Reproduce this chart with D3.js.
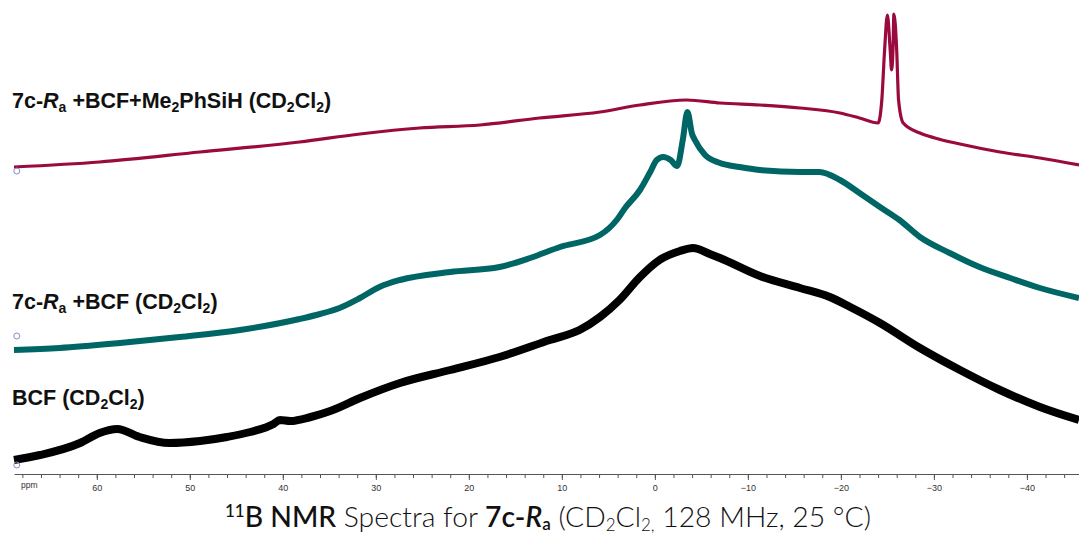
<!DOCTYPE html>
<html>
<head>
<meta charset="utf-8">
<script src="https://cdn.jsdelivr.net/npm/d3@7"></script>
<style>
  body { margin: 0; background: #fff; }
  svg { display: block; }
  .tick text { font-family: "Liberation Sans", Arial, sans-serif; }
</style>
</head>
<body>
<svg class="chart"></svg>
<script>
var width = 1079,
    height = 538;

// chemical shift (ppm) and intensity
var bcfPpm = [68.9, 66.1, 61.8, 59.7, 57.8, 55.4, 52.2, 48.9, 46.0, 43.5, 41.0, 40.3, 39.2, 37.0, 34.9, 31.7, 27.4, 22.0, 16.7, 11.3, 8.1, 5.9, 3.8, 1.6, -0.5, -2.7, -4.1, -5.9, -7.0, -11.3, -15.6, -18.8, -21.0, -24.2, -28.5, -32.8, -37.1, -41.4, -45.6];
var bcfInt = [14, 19, 31, 41, 45, 37, 31, 33, 37, 42, 50, 54, 53, 57, 63, 76, 91, 104, 117, 134, 144, 157, 174, 197, 214, 223, 226, 220, 216, 198, 186, 177, 167, 151, 126, 104, 84, 67, 54];

var bcf7cPpm = [68.9, 64.0, 57.5, 51.1, 44.6, 38.2, 36.0, 33.9, 31.7, 29.6, 27.4, 22.0, 16.7, 13.4, 10.2, 5.9, 4.1, 3.2, 1.6, 0.5, -0.2, -0.9, -1.7, -2.4, -3.0, -3.5, -4.0, -4.3, -5.4, -7.0, -9.1, -11.3, -15.6, -17.7, -19.9, -22.0, -24.2, -26.3, -28.5, -31.7, -34.9, -38.2, -41.4, -45.6];
var bcf7cInt = [124, 126, 131, 137, 144, 155, 160, 166, 176, 187, 194, 202, 207, 216, 227, 239, 254, 266, 284, 302, 314, 317, 314, 308, 334, 362, 340, 334, 319, 311, 307, 304, 302, 302, 294, 281, 267, 254, 237, 221, 207, 196, 186, 176];

var silPpm = [68.9, 59.7, 48.9, 38.2, 31.7, 25.3, 18.8, 12.4, 5.9, 1.6, -3.4, -7.0, -11.3, -15.6, -19.9, -22.0, -24.0, -24.4, -24.7, -25.0, -25.3, -25.45, -25.6, -25.7, -26.0, -26.2, -26.7, -28.5, -30.1, -32.8, -37.1, -41.4, -45.6];
var silInt = [307, 312, 322, 332, 340, 346, 349, 356, 362, 369, 374, 371, 369, 366, 361, 356, 351, 374, 424, 459, 424, 404, 424, 460, 424, 374, 351, 341, 336, 330, 322, 316, 309];

var majorTicks = [60, 50, 40, 30, 20, 10, 0, -10, -20, -30, -40];
var minorTicks = d3.range(68, -45, -2);

var svg = d3.select(".chart")
    .attr("width", width)
    .attr("height", height);

svg.append("rect").attr("width", width).attr("height", height).attr("fill", "#fff");

var x = d3.scaleLinear().domain([68.9, -45.6]).range([14, 1079]);
var y = d3.scaleLinear().domain([0, 474]).range([474, 0]);

var line = d3.line()
    .x(d => x(d[0]))
    .y(d => y(d[1]))
    .curve(d3.curveMonotoneX);

var series = [
  {ppm: silPpm, val: silInt, color: "#9a0a3e", w: 3.2},
  {ppm: bcf7cPpm, val: bcf7cInt, color: "#006665", w: 6},
  {ppm: bcfPpm, val: bcfInt, color: "#000000", w: 8}
];

series.forEach(s => {
  var pts = s.ppm.map((p, i) => [p, s.val[i]]);
  svg.append("path")
    .attr("d", line(pts))
    .attr("fill", "none")
    .attr("stroke", s.color)
    .attr("stroke-width", s.w)
    .attr("stroke-linejoin", "round");
});

// little ring markers at the left end of each trace
var ringPpm = [68.6, 68.6, 68.6],
    ringInt = [303, 138, 9];
svg.selectAll(".ring")
  .data(ringPpm)
  .enter().append("circle")
    .attr("class", "ring")
    .attr("cx", d => x(d))
    .attr("cy", (d, i) => y(ringInt[i]))
    .attr("r", 3)
    .attr("fill", "none")
    .attr("stroke", "#8c8cc4")
    .attr("stroke-width", 1);

// axis: minor then major ticks
svg.append("g")
    .attr("transform", "translate(0,474)")
    .call(d3.axisBottom(x).tickValues(minorTicks).tickSize(4).tickSizeOuter(0).tickFormat(""))
    .call(g => g.selectAll("line, path").attr("stroke", "#555"));

svg.append("g")
    .attr("transform", "translate(0,474)")
    .call(d3.axisBottom(x).tickValues(majorTicks).tickSize(6).tickSizeOuter(0).tickPadding(5))
    .call(g => g.select(".domain").remove())
    .call(g => g.selectAll("line").attr("stroke", "#555"))
    .call(g => g.selectAll("text").attr("font-size", 9).attr("fill", "#333"));

svg.append("text")
    .attr("x", 21).attr("y", 488)
    .attr("font-family", "Liberation Sans, Arial, sans-serif")
    .attr("font-size", 8.5)
    .attr("fill", "#333")
    .text("ppm");

// trace labels
function label(yPos, parts) {
  var t = svg.append("text")
      .attr("x", 12).attr("y", yPos)
      .attr("font-family", "Liberation Sans, Arial, sans-serif")
      .attr("font-weight", "bold")
      .attr("font-size", 21.5)
      .attr("fill", "#111");
  parts.forEach(p => {
    var ts = t.append("tspan").text(p.t);
    if (p.sub) ts.attr("font-size", 14).attr("dy", 4);
    if (p.up) ts.attr("dy", -4);
    if (p.it) ts.attr("font-style", "italic");
  });
}

label(108, [{t: "7c-"}, {t: "R", it: true}, {t: "a", sub: true}, {t: " +BCF+Me", up: true}, {t: "2", sub: true},
            {t: "PhSiH (CD", up: true}, {t: "2", sub: true}, {t: "Cl", up: true}, {t: "2", sub: true}, {t: ")", up: true}]);
label(309, [{t: "7c-"}, {t: "R", it: true}, {t: "a", sub: true}, {t: " +BCF (CD", up: true}, {t: "2", sub: true},
            {t: "Cl", up: true}, {t: "2", sub: true}, {t: ")", up: true}]);
label(405, [{t: "BCF (CD"}, {t: "2", sub: true}, {t: "Cl", up: true}, {t: "2", sub: true}, {t: ")", up: true}]);

// title
var title = svg.append("text")
    .attr("x", 548).attr("y", 527)
    .attr("text-anchor", "middle")
    .attr("font-family", "Lato, 'Open Sans', sans-serif")
    .attr("font-size", 28.3)
    .attr("fill", "#111");
title.append("tspan").text("11").attr("font-size", 17).attr("dy", -10).attr("font-weight", 500);
title.append("tspan").text("B NMR").attr("dy", 10).attr("font-weight", 500);
title.append("tspan").text(" Spectra for ").attr("font-weight", 300);
title.append("tspan").text("7c-").attr("font-weight", 600);
title.append("tspan").text("R").attr("font-weight", 600).attr("font-style", "italic");
title.append("tspan").text("a").attr("font-weight", 600).attr("font-size", 17).attr("dy", 3);
title.append("tspan").text(" (CD").attr("font-weight", 300).attr("dy", -3);
title.append("tspan").text("2").attr("font-weight", 300).attr("font-size", 17).attr("dy", 4);
title.append("tspan").text("Cl").attr("font-weight", 300).attr("dy", -4);
title.append("tspan").text("2,").attr("font-weight", 300).attr("font-size", 17).attr("dy", 4);
title.append("tspan").text(" 128 MHz, 25 °C)").attr("font-weight", 300).attr("dy", -4);
</script>
</body>
</html>
